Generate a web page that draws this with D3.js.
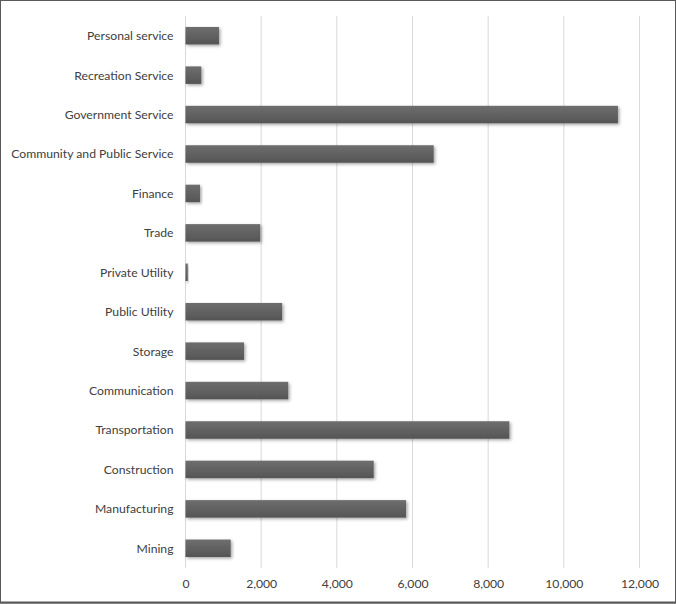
<!DOCTYPE html>
<html>
<head>
<meta charset="utf-8">
<script src="https://cdn.jsdelivr.net/npm/d3@7"></script>
<style>
  body { margin: 0; background: #fff; }
  svg { display: block; }
</style>
</head>
<body>
<div id="chart"></div>
<script>
// categories top to bottom as shown
const categories = [
  "Personal service", "Recreation Service", "Government Service",
  "Community and Public Service", "Finance", "Trade", "Private Utility",
  "Public Utility", "Storage", "Communication", "Transportation",
  "Construction", "Manufacturing", "Mining"
];
const values = [885, 418, 11430, 6560, 383, 1975, 60, 2555, 1546, 2715, 8560, 4975, 5830, 1195];
const xTicks = [0, 2000, 4000, 6000, 8000, 10000, 12000];

const width = 676, height = 604;
const margin = { top: 16, right: 36, bottom: 36, left: 185.5 };

const svg = d3.select("#chart").append("svg")
  .attr("width", width)
  .attr("height", height);

const defs = svg.append("defs");
const grad = defs.append("linearGradient")
  .attr("id", "barGrad")
  .attr("x1", 0).attr("y1", 0).attr("x2", 0).attr("y2", 1);
grad.append("stop").attr("offset", "0%").attr("stop-color", "#6e6e6e");
grad.append("stop").attr("offset", "100%").attr("stop-color", "#555555");

const shadow = defs.append("filter")
  .attr("id", "shadow")
  .attr("x", "-10%").attr("y", "-30%")
  .attr("width", "130%").attr("height", "180%");
shadow.append("feDropShadow")
  .attr("dx", 1.5).attr("dy", 1.5)
  .attr("stdDeviation", 1.5)
  .attr("flood-color", "#000")
  .attr("flood-opacity", 0.35);

const x = d3.scaleLinear()
  .domain([0, 12000])
  .range([margin.left, 639.5]);

const y = d3.scaleBand()
  .domain(categories)
  .range([margin.top, 568])
  .paddingInner(0.556)
  .paddingOuter(0.278);

// gridlines
svg.append("g")
  .selectAll("line")
  .data(xTicks)
  .enter().append("line")
  .attr("x1", d => x(d)).attr("x2", d => x(d))
  .attr("y1", margin.top).attr("y2", 568)
  .attr("stroke", "#d9d9d9")
  .attr("stroke-width", 1);

// bars
svg.append("g")
  .selectAll("rect")
  .data(categories)
  .enter().append("rect")
  .attr("x", x(0))
  .attr("y", d => y(d))
  .attr("width", (d, i) => x(values[i]) - x(0))
  .attr("height", y.bandwidth())
  .attr("fill", "url(#barGrad)")
  .attr("filter", "url(#shadow)");

// category labels
const yAxis = d3.axisLeft(y).tickSize(0).tickPadding(12);
svg.append("g")
  .attr("transform", `translate(${margin.left},0.5)`)
  .call(yAxis)
  .call(g => g.select(".domain").remove())
  .selectAll("text")
  .attr("font-family", "Lato, sans-serif")
  .attr("font-size", 12.2)
  .attr("fill", "#404040");

// x tick labels
const xAxis = d3.axisBottom(x)
  .tickValues(xTicks)
  .tickSize(0)
  .tickPadding(0)
  .tickFormat(d3.format(","));
svg.append("g")
  .attr("transform", "translate(0,579)")
  .call(xAxis)
  .call(g => g.select(".domain").remove())
  .selectAll("text")
  .attr("font-family", "Lato, sans-serif")
  .attr("font-size", 12.2)
  .attr("fill", "#404040");

// outer border
svg.append("rect")
  .attr("x", 0.5).attr("y", 0.5)
  .attr("width", width - 1).attr("height", height - 1.5)
  .attr("fill", "none")
  .attr("stroke", "#595959")
  .attr("stroke-width", 1);
svg.append("line")
  .attr("x1", 0).attr("x2", width)
  .attr("y1", height - 1.5).attr("y2", height - 1.5)
  .attr("stroke", "#595959")
  .attr("stroke-width", 2);
</script>
</body>
</html>
